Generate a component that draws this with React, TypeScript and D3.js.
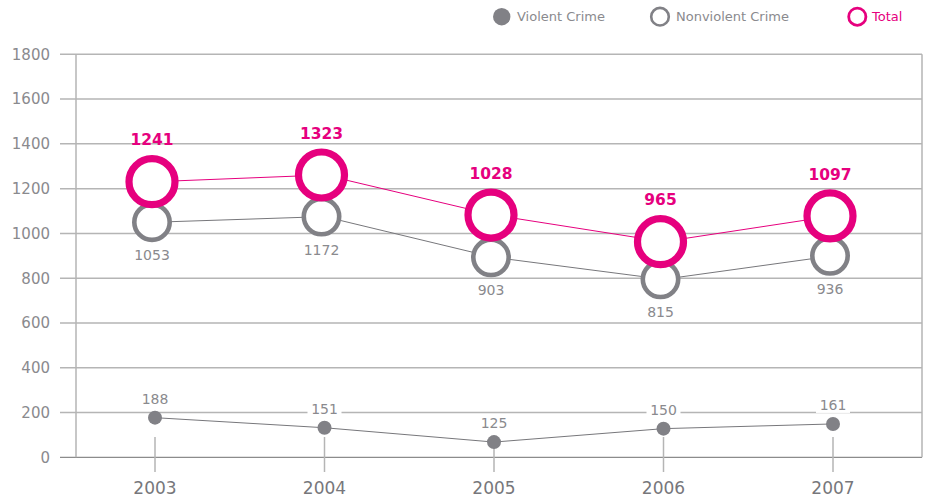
import React from 'react';
import * as d3 from 'd3';

const years = ['2003', '2004', '2005', '2006', '2007'];
const totalLabels = [1241, 1323, 1028, 965, 1097];
const totalValues = [1231, 1261, 1082, 963, 1078];
const nonviolentLabels = [1053, 1172, 903, 815, 936];
const nonviolentValues = [1050, 1075, 893, 795, 900];
const violentLabels = [188, 151, 125, 150, 161];
const violentValues = [177, 132, 68, 128, 149];
const yTicks = [0, 200, 400, 600, 800, 1000, 1200, 1400, 1600, 1800];
const legendItems = ['Violent Crime', 'Nonviolent Crime', 'Total'];

const W = 925;
const H = 499;
const PINK = '#e6007e';
const GREY = '#818186';
const TEXT = '#8a8a8e';
const GRID = '#b5b5b5';
const FONT = '"DejaVu Sans", sans-serif';

export default function App() {
  const x = d3.scalePoint<string>().domain(years).range([155, 833]);
  const y = d3.scaleLinear().domain([0, 1800]).range([457.3, 54.3]);
  const line = d3
    .line<[string, number]>()
    .x((d) => x(d[0]) as number)
    .y((d) => y(d[1]));
  const totalPts = years.map((yr, i) => [yr, totalValues[i]] as [string, number]);
  const nonPts = years.map((yr, i) => [yr, nonviolentValues[i]] as [string, number]);
  const vioPts = years.map((yr, i) => [yr, violentValues[i]] as [string, number]);

  const legendX = [501.7, 660, 857.3];
  const legendTextX = [517, 676, 872];

  return (
    <svg
      width={W}
      height={H}
      style={{ position: 'absolute', left: 0, top: 0, display: 'block', background: '#fff' }}
    >
      {/* gridlines */}
      {yTicks.map((t) => (
        <g key={t}>
          <line
            x1={60}
            x2={922}
            y1={y(t)}
            y2={y(t)}
            stroke={t === 0 ? '#8c8c8c' : GRID}
            strokeWidth={t === 0 ? 1.2 : 1.5}
          />
          <text
            x={50}
            y={y(t)}
            dy="0.36em"
            textAnchor="end"
            fontFamily={FONT}
            fontSize={15}
            fill={TEXT}
          >
            {t}
          </text>
        </g>
      ))}
      {/* axis lines */}
      <line x1={76} x2={76} y1={y(1800)} y2={y(0)} stroke={GRID} strokeWidth={1.5} />
      <line x1={922} x2={922} y1={y(1800)} y2={y(0)} stroke={GRID} strokeWidth={1.5} />
      {/* category ticks and labels */}
      {years.map((yr) => (
        <g key={yr}>
          <line
            x1={x(yr)}
            x2={x(yr)}
            y1={437}
            y2={472}
            stroke={GRID}
            strokeWidth={1.5}
          />
          <text
            x={x(yr)}
            y={488}
            dy="0.36em"
            textAnchor="middle"
            fontFamily={FONT}
            fontSize={17}
            fill="#77777b"
          >
            {yr}
          </text>
        </g>
      ))}

      {/* violent series */}
      <path d={line(vioPts) || ''} fill="none" stroke="#77777b" strokeWidth={1} />
      {vioPts.map((p, i) => (
        <g key={'v' + i}>
          <circle cx={x(p[0])} cy={y(p[1])} r={7} fill={GREY} />
          <rect
            x={(x(p[0]) as number) - 17}
            y={y(p[1]) - 27}
            width={34}
            height={16}
            fill="#fff"
          />
          <text
            x={x(p[0])}
            y={y(p[1]) - 19}
            dy="0.36em"
            textAnchor="middle"
            fontFamily={FONT}
            fontSize={14}
            fill={TEXT}
          >
            {violentLabels[i]}
          </text>
        </g>
      ))}

      {/* lines for nonviolent and total */}
      <path d={line(nonPts) || ''} fill="none" stroke="#77777b" strokeWidth={1} />
      <path d={line(totalPts) || ''} fill="none" stroke={PINK} strokeWidth={1} />

      {/* nonviolent rings */}
      {nonPts.map((p, i) => (
        <g key={'n' + i}>
          <circle
            cx={(x(p[0]) as number) - 3}
            cy={y(p[1])}
            r={17.7}
            fill="#fff"
            stroke={GREY}
            strokeWidth={4.6}
          />
          <text
            x={(x(p[0]) as number) - 3}
            y={y(p[1]) + 33}
            dy="0.36em"
            textAnchor="middle"
            fontFamily={FONT}
            fontSize={14}
            fill={TEXT}
          >
            {nonviolentLabels[i]}
          </text>
        </g>
      ))}

      {/* total rings */}
      {totalPts.map((p, i) => (
        <g key={'t' + i}>
          <circle
            cx={(x(p[0]) as number) - 3}
            cy={y(p[1])}
            r={23}
            fill="#fff"
            stroke={PINK}
            strokeWidth={7.2}
          />
          <text
            x={(x(p[0]) as number) - 3}
            y={y(p[1]) - 42}
            dy="0.36em"
            textAnchor="middle"
            fontFamily={FONT}
            fontWeight="bold"
            fontSize={15.5}
            fill={PINK}
          >
            {totalLabels[i]}
          </text>
        </g>
      ))}

      {/* legend */}
      <circle cx={legendX[0]} cy={16.7} r={8.7} fill={GREY} />
      <circle cx={legendX[1]} cy={16.7} r={8.8} fill="#fff" stroke={GREY} strokeWidth={2.6} />
      <circle cx={legendX[2]} cy={16.7} r={8.6} fill="#fff" stroke={PINK} strokeWidth={2.8} />
      {legendItems.map((name, i) => (
        <text
          key={name}
          x={legendTextX[i]}
          y={16.5}
          dy="0.36em"
          fontFamily={FONT}
          fontSize={13}
          fill={i === 2 ? PINK : TEXT}
        >
          {name}
        </text>
      ))}
    </svg>
  );
}
